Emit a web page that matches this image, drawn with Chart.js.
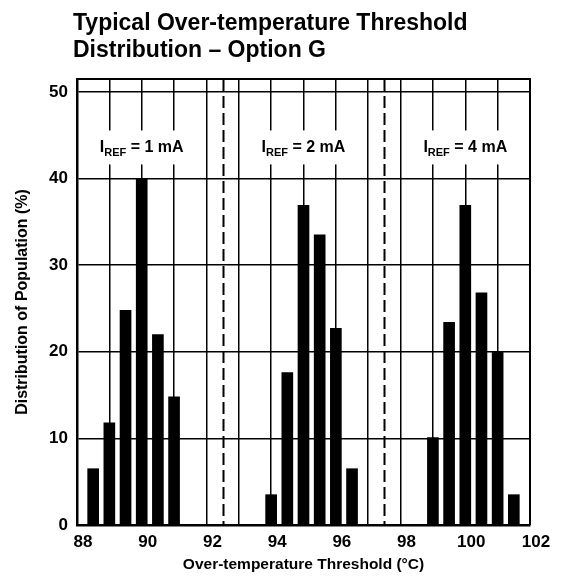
<!DOCTYPE html>
<html>
<head>
<meta charset="utf-8">
<script src="https://cdn.jsdelivr.net/npm/chart.js@4.4.1/dist/chart.umd.min.js"></script>
<style>
  body { margin: 0; background: #fff; }
  canvas { display: block; }
</style>
</head>
<body>
<canvas id="distChart" width="564" height="582"></canvas>
<script>
// Threshold bins (°C) and population share (%) for each reference current
const temps1mA = [88.5, 89, 89.5, 90, 90.5, 91];
const pct1mA = [6.5, 11.8, 24.8, 40, 22, 14.8];
const temps2mA = [94, 94.5, 95, 95.5, 96, 96.5];
const pct2mA = [3.5, 17.6, 36.9, 33.5, 22.7, 6.5];
const temps4mA = [99, 99.5, 100, 100.5, 101, 101.5];
const pct4mA = [10.1, 23.4, 36.9, 26.8, 20, 3.5];

const xTickLabels = [88, 90, 92, 94, 96, 98, 100, 102];
const yTickLabels = [0, 10, 20, 30, 40, 50];
const dividers = [92.5, 97.5];
const groupLabels = ["1 mA", "2 mA", "4 mA"];
const groupLabelX = [90, 95, 100];

const FONT = "'Liberation Sans', Arial, sans-serif";

function toPoints(xs, ys) {
  return xs.map((x, i) => ({ x: x, y: ys[i] }));
}

// Frame, dashed dividers, title and I_REF labels
const decorations = {
  id: "decorations",
  beforeDatasetsDraw(chart) {
    const { ctx, chartArea, scales } = chart;
    ctx.save();
    ctx.strokeStyle = "#000";
    ctx.lineWidth = 2;
    ctx.setLineDash([12, 5]);
    dividers.forEach((d) => {
      const px = Math.round(scales.x.getPixelForValue(d)) + 0.5;
      ctx.beginPath();
      ctx.moveTo(px, chartArea.top);
      ctx.lineTo(px, chartArea.bottom);
      ctx.stroke();
    });
    ctx.restore();
  },
  afterDatasetsDraw(chart) {
    const { ctx, chartArea, scales } = chart;
    ctx.save();

    // I_REF labels on white boxes
    const yMid = scales.y.getPixelForValue(43.6);
    groupLabels.forEach((txt, i) => {
      const cx = scales.x.getPixelForValue(groupLabelX[i]);
      ctx.font = "bold 16px " + FONT;
      const wI = ctx.measureText("I").width;
      const wRest = ctx.measureText(" = " + txt).width;
      ctx.font = "bold 11px " + FONT;
      const wSub = ctx.measureText("REF").width;
      const total = wI + wSub + wRest;
      const x0 = cx - total / 2;

      ctx.fillStyle = "#fff";
      ctx.fillRect(x0 - 9, yMid - 17, total + 18, 34);

      ctx.fillStyle = "#000";
      ctx.textBaseline = "alphabetic";
      ctx.textAlign = "left";
      ctx.font = "bold 16px " + FONT;
      ctx.fillText("I", x0, yMid + 5);
      ctx.font = "bold 11px " + FONT;
      ctx.fillText("REF", x0 + wI, yMid + 9);
      ctx.font = "bold 16px " + FONT;
      ctx.fillText(" = " + txt, x0 + wI + wSub, yMid + 5);
    });

    // top and right frame
    ctx.strokeStyle = "#000";
    ctx.lineWidth = 2;
    ctx.beginPath();
    ctx.moveTo(chartArea.left, chartArea.top);
    ctx.lineTo(chartArea.right, chartArea.top);
    ctx.lineTo(chartArea.right, chartArea.bottom);
    ctx.stroke();

    // title
    ctx.fillStyle = "#000";
    ctx.font = "bold 23px " + FONT;
    ctx.textAlign = "left";
    ctx.fillText("Typical Over-temperature Threshold", 73, 30);
    ctx.fillText("Distribution \u2013 Option G", 73, 57);
    ctx.restore();
  },
};

const barStyle = {
  backgroundColor: "#000",
  borderWidth: 0,
  barThickness: 11,
  grouped: false,
};

new Chart(document.getElementById("distChart").getContext("2d"), {
  type: "bar",
  data: {
    datasets: [
      Object.assign({ label: "1 mA", data: toPoints(temps1mA, pct1mA) }, barStyle),
      Object.assign({ label: "2 mA", data: toPoints(temps2mA, pct2mA) }, barStyle),
      Object.assign({ label: "4 mA", data: toPoints(temps4mA, pct4mA) }, barStyle),
    ],
  },
  plugins: [decorations],
  options: {
    responsive: false,
    animation: false,
    layout: { padding: { top: 79, right: 34, left: 0, bottom: 0 } },
    plugins: {
      legend: { display: false },
      tooltip: { enabled: false },
    },
    scales: {
      x: {
        type: "linear",
        min: 88,
        max: 102,
        offset: false,
        afterBuildTicks: (scale) => {
          const ticks = [];
          for (let v = 88; v <= 102; v++) ticks.push({ value: v });
          scale.ticks = ticks;
        },
        afterFit: (scale) => {
          scale.height = 57;
        },
        grid: {
          offset: false,
          color: "#000",
          lineWidth: 1.5,
          drawTicks: false,
        },
        border: { color: "#000", width: 2.5 },
        ticks: {
          autoSkip: false,
          maxRotation: 0,
          padding: 7,
          labelOffset: 6,
          color: "#000",
          font: { family: FONT, size: 17, weight: "bold" },
          callback: (v) => (xTickLabels.includes(v) ? String(v) : ""),
        },
        title: {
          display: true,
          text: "Over-temperature Threshold (\u00B0C)",
          color: "#000",
          font: { family: FONT, size: 15.5, weight: "bold" },
          padding: { top: 0, bottom: 8 },
        },
      },
      y: {
        min: 0,
        max: 51.5,
        afterBuildTicks: (scale) => {
          scale.ticks = yTickLabels.map((v) => ({ value: v }));
        },
        afterFit: (scale) => {
          scale.width = 77;
        },
        grid: {
          color: "#000",
          lineWidth: 1.5,
          drawTicks: false,
        },
        border: { color: "#000", width: 2.5 },
        ticks: {
          padding: 9,
          color: "#000",
          font: { family: FONT, size: 17, weight: "bold" },
        },
        title: {
          display: true,
          text: "Distribution of Population (%)",
          color: "#000",
          font: { family: FONT, size: 16, weight: "bold" },
          padding: { top: 13, bottom: 0 },
        },
      },
    },
  },
});
</script>
</body>
</html>
